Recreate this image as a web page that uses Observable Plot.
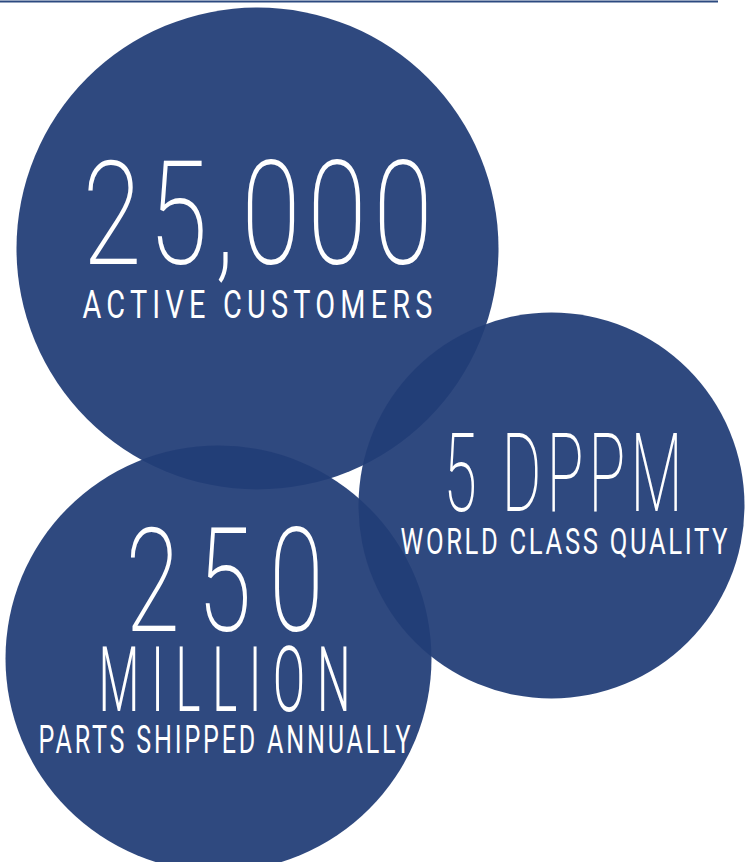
<!DOCTYPE html>
<html>
<head>
<meta charset="utf-8">
<script src="https://cdn.jsdelivr.net/npm/d3@7"></script>
<script src="https://cdn.jsdelivr.net/npm/@observablehq/plot@0.6"></script>
<style>
  html, body { margin: 0; padding: 0; background: #ffffff; }
  #chart svg { display: block; }
</style>
</head>
<body>
<div id="chart"></div>
<script>
// ---- content ----
const metrics   = ["25,000", "5 DPPM", "250"];
const unitLines = ["", "", "MILLION"];
const captions  = ["ACTIVE CUSTOMERS", "WORLD CLASS QUALITY", "PARTS SHIPPED ANNUALLY"];

// ---- layout (pixel geometry of the bubbles and text lines) ----
const bubbleLayout = [
  {cx: 257, cy: 248, r: 241},
  {cx: 551, cy: 505, r: 193},
  {cx: 218, cy: 658, r: 213}
];
// per line: [left x, baseline y, font size, weight, ink width, glyph squeeze]
const metricLayout  = [[82, 263, 145, 200, 350, 0.74], [443, 510, 110, 200, 239, 0.55], [125, 630, 145, 200, 198, 0.68]];
const unitLayout    = [null, null, [98, 710, 91, 300, 252, 0.52]];
const captionLayout = [[82, 317, 38, 400, 350, 0.76], [400, 553, 36.6, 400, 327, 0.7], [38, 752, 38, 400, 372, 0.66]];

const W = 750, H = 862;
const fill = "#223e77";

const bubbles = bubbleLayout.map((b, i) => ({...b, metric: metrics[i]}));
const lines = [];
metrics.forEach((m, i) => {
  const push = (text, lay) => {
    if (!text || !lay) return;
    const [x, y, size, weight, width, squeeze] = lay;
    lines.push({text, x, y, size, weight, width, squeeze});
  };
  push(m, metricLayout[i]);
  push(unitLines[i], unitLayout[i]);
  push(captions[i], captionLayout[i]);
});

const textMarks = lines.map(d => Plot.text([d], {
  x: "x", y: "y", text: "text",
  textAnchor: "start", lineAnchor: "bottom",
  fill: "#ffffff",
  fontSize: d.size, fontWeight: d.weight,
  fontFamily: "Roboto, 'Liberation Sans Narrow', sans-serif"
}));

const chart = Plot.plot({
  width: W, height: H,
  margin: 0,
  x: {domain: [0, W], range: [0, W], axis: null},
  y: {domain: [0, H], range: [0, H], axis: null},
  r: {type: "identity"},
  style: {background: "#ffffff", overflow: "hidden"},
  marks: [
    Plot.ruleY([1], {x1: 0, x2: 718, stroke: "#2c4a80", strokeWidth: 2}),
    Plot.dot(bubbles, {x: "cx", y: "cy", r: "r", fill, fillOpacity: 0.94, stroke: "none"}),
    ...textMarks
  ]
});

// narrow the glyphs and spread them to the width each line occupies in the reference
const groups = chart.querySelectorAll("g[aria-label='text']");
groups.forEach((g, i) => {
  const d = lines[i];
  g.querySelectorAll("text").forEach(t => {
    const tr = t.getAttribute("transform") || "";
    t.setAttribute("transform", `${tr} scale(${d.squeeze},1)`);
    t.setAttribute("textLength", d.width / d.squeeze);
    t.setAttribute("lengthAdjust", "spacing");
  });
});

document.getElementById("chart").appendChild(chart);
</script>
</body>
</html>
